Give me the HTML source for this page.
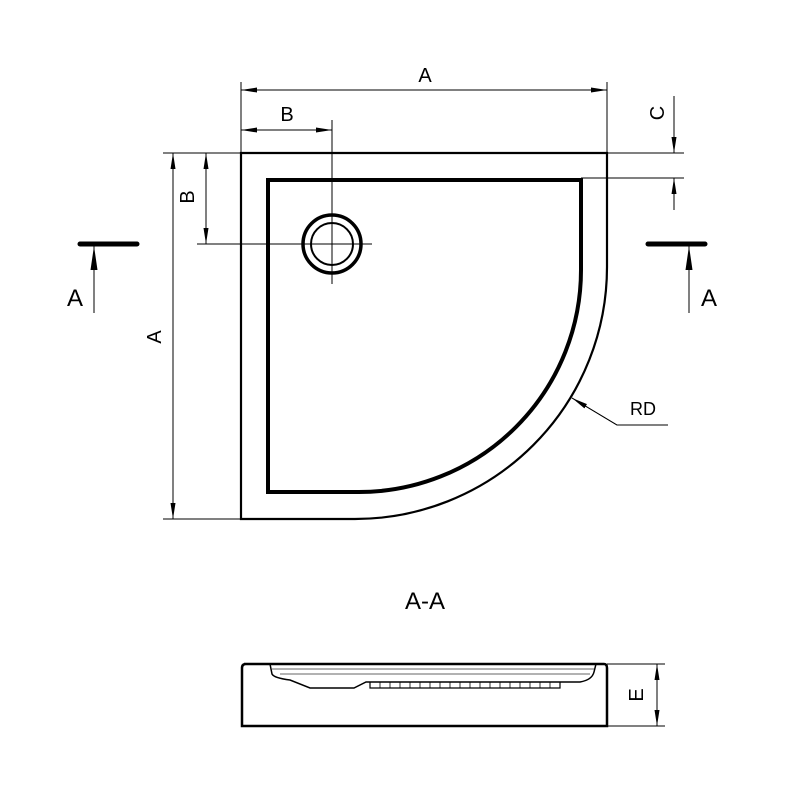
<!DOCTYPE html>
<html><head><style>body{margin:0;background:#fff}svg{display:block}</style></head><body>
<svg width="800" height="800" viewBox="0 0 800 800" xmlns="http://www.w3.org/2000/svg" font-family="Liberation Sans, sans-serif">
<defs>
<marker id="ar" viewBox="0 0 16 6" refX="16" refY="3" markerWidth="16" markerHeight="6" orient="auto-start-reverse" markerUnits="userSpaceOnUse"><path d="M0,0.5 L16,3 L0,5.5 z" fill="#000"/></marker>
<marker id="ab" viewBox="0 0 24 8" refX="24" refY="4" markerWidth="24" markerHeight="8" orient="auto-start-reverse" markerUnits="userSpaceOnUse"><path d="M0,0.5 L24,4 L0,7.5 z" fill="#000"/></marker>
</defs>
<g stroke="#000" fill="none">
<path d="M241,153 H607 V267 A252,252 0 0 1 355,519 H241 Z" stroke-width="2.2"/>
<path d="M268,180 H581 V270 A222,222 0 0 1 359,492 H268 Z" stroke-width="4"/>
<circle cx="332" cy="244" r="29" stroke-width="3.5"/>
<circle cx="332" cy="244" r="21" stroke-width="2"/>
<g stroke-width="1">
<line x1="332" y1="120" x2="332" y2="284"/>
<line x1="197" y1="244" x2="372" y2="244"/>
<line x1="241" y1="82" x2="241" y2="153"/>
<line x1="607" y1="82" x2="607" y2="153"/>
<line x1="163" y1="153" x2="241" y2="153"/>
<line x1="163" y1="519" x2="241" y2="519"/>
<line x1="607" y1="153" x2="684" y2="153"/>
<line x1="581" y1="178" x2="684" y2="178"/>
<line x1="241" y1="90" x2="607" y2="90" marker-start="url(#ar)" marker-end="url(#ar)"/>
<line x1="241" y1="130" x2="332" y2="130" marker-start="url(#ar)" marker-end="url(#ar)"/>
<line x1="173" y1="153" x2="173" y2="519" marker-start="url(#ar)" marker-end="url(#ar)"/>
<line x1="206" y1="153" x2="206" y2="244" marker-start="url(#ar)" marker-end="url(#ar)"/>
<line x1="674" y1="96" x2="674" y2="153" marker-end="url(#ar)"/>
<line x1="674" y1="210" x2="674" y2="178" marker-end="url(#ar)"/>
<line x1="94" y1="313" x2="94" y2="246" marker-end="url(#ab)"/>
<line x1="689" y1="313" x2="689" y2="246" marker-end="url(#ab)"/>
<polyline points="668,425 617,425 572,398"/>
<line x1="617" y1="425" x2="572" y2="398" marker-end="url(#ar)"/>
<line x1="607" y1="664" x2="665" y2="664"/>
<line x1="607" y1="726" x2="665" y2="726"/>
<line x1="657" y1="664" x2="657" y2="726" marker-start="url(#ar)" marker-end="url(#ar)"/>
</g>
<line x1="80" y1="244" x2="137" y2="244" stroke-width="5" stroke-linecap="round"/>
<line x1="648" y1="244" x2="705" y2="244" stroke-width="5" stroke-linecap="round"/>
<path d="M244,664 H604 Q607,664 607,668 V726 H242 V668 Q242,664 246,664 Z" stroke-width="2.5"/>
<path d="M270,664 L272,674 Q274,678 290,680 L310,688 H354 L366,682 H580 Q592,680 594,672 L596,664" stroke-width="1.5"/>
<path d="M272,669 H594 M280,674 H590" stroke-width="1" stroke="#666"/>
<path d="M370,682 V688 H560 V682" stroke-width="1.2"/>
<path d="M380,682V688M390,682V688M400,682V688M410,682V688M420,682V688M430,682V688M440,682V688M450,682V688M460,682V688M470,682V688M480,682V688M490,682V688M500,682V688M510,682V688M520,682V688M530,682V688M540,682V688M550,682V688" stroke-width="0.8"/>
</g>
<g font-size="20" fill="#000" text-anchor="middle">
<text x="425" y="82">A</text>
<text x="287" y="121">B</text>
<text transform="translate(161,337) rotate(-90)">A</text>
<text transform="translate(194,197) rotate(-90)">B</text>
<text transform="translate(664,113) rotate(-90)">C</text>
<text x="75" y="306" font-size="24">A</text>
<text x="709" y="306" font-size="24">A</text>
<text x="643" y="415" font-size="18">RD</text>
<text x="425" y="609" font-size="24">A-A</text>
<text transform="translate(643,695) rotate(-90)">E</text>
</g>
</svg>
</body></html>
